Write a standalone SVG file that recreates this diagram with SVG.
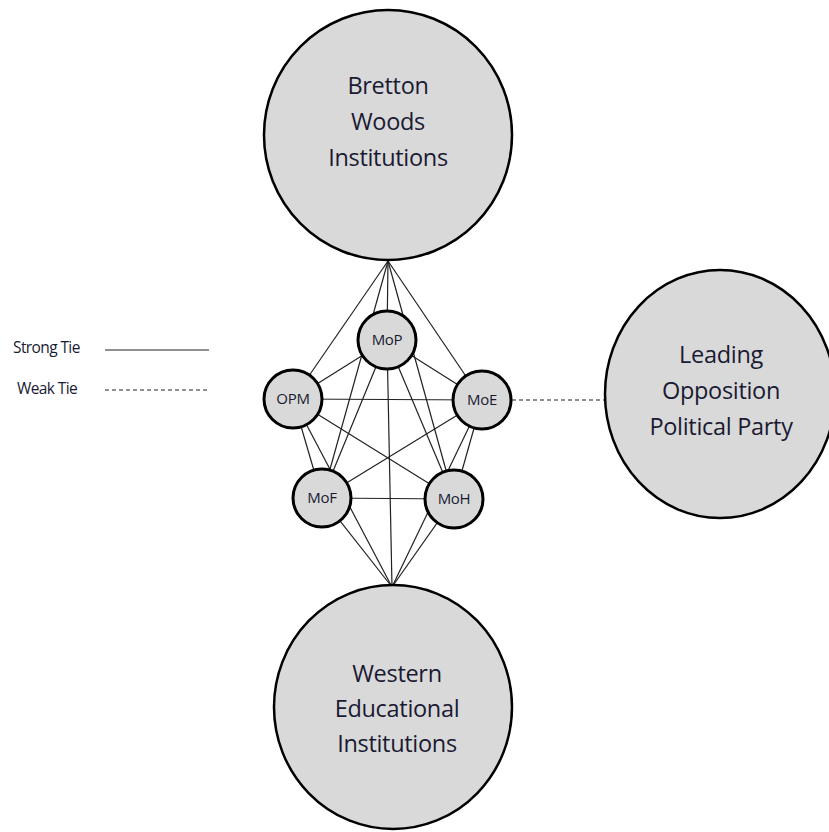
<svg xmlns="http://www.w3.org/2000/svg" width="829" height="832" viewBox="0 0 829 832">
<defs>
<style>
.big{fill:#d9d9d9;stroke:#000;stroke-width:2.5}
.small{fill:#d9d9d9;stroke:#000;stroke-width:3}
.lbl{font-family:"Open Sans","Liberation Sans",sans-serif;fill:#1a1a33;text-anchor:middle}
.bt{font-size:23.5px;letter-spacing:-0.3px}
.st{font-size:15px;letter-spacing:-0.3px}
.leg{font-family:"Open Sans","Liberation Sans",sans-serif;font-size:15.5px;fill:#1a1a33;letter-spacing:-0.6px}
.strong{stroke:#222;stroke-width:1.2;fill:none}
.weak{stroke:#222;stroke-width:1.2;fill:none;stroke-dasharray:4,3}
</style>
</defs>
<rect width="829" height="832" fill="#fff"/>
<g id="connectors">
<line class="strong" x1="388" y1="261" x2="293" y2="399"/>
<line class="strong" x1="388" y1="261" x2="387" y2="340"/>
<line class="strong" x1="388" y1="261" x2="482" y2="400"/>
<line class="strong" x1="388" y1="261" x2="322" y2="498"/>
<line class="strong" x1="388" y1="261" x2="454" y2="499"/>
<line class="strong" x1="392" y1="587" x2="293" y2="399"/>
<line class="strong" x1="392" y1="587" x2="387" y2="340"/>
<line class="strong" x1="392" y1="587" x2="482" y2="400"/>
<line class="strong" x1="392" y1="587" x2="322" y2="498"/>
<line class="strong" x1="392" y1="587" x2="454" y2="499"/>
<line class="strong" x1="293" y1="399" x2="482" y2="400"/>
<line class="strong" x1="322" y1="498" x2="454" y2="499"/>
<line class="strong" x1="293" y1="399" x2="387" y2="340"/>
<line class="strong" x1="387" y1="340" x2="482" y2="400"/>
<line class="strong" x1="293" y1="399" x2="322" y2="498"/>
<line class="strong" x1="482" y1="400" x2="454" y2="499"/>
<line class="strong" x1="293" y1="399" x2="454" y2="499"/>
<line class="strong" x1="482" y1="400" x2="322" y2="498"/>
<line class="strong" x1="387" y1="340" x2="322" y2="498"/>
<line class="strong" x1="387" y1="340" x2="454" y2="499"/>
<line class="weak" x1="512" y1="400" x2="605" y2="400"/>
</g>
<g id="bretton-woods">
<ellipse class="big" cx="388" cy="135" rx="124" ry="125"/>
<text class="lbl bt" x="388" y="94">Bretton</text>
<text class="lbl bt" x="388" y="130">Woods</text>
<text class="lbl bt" x="388" y="166">Institutions</text>
</g>
<g id="western-educational">
<ellipse class="big" cx="393" cy="707" rx="119" ry="122"/>
<text class="lbl bt" x="397" y="682">Western</text>
<text class="lbl bt" x="397" y="717">Educational</text>
<text class="lbl bt" x="397" y="752">Institutions</text>
</g>
<g id="leading-opposition">
<ellipse class="big" cx="720" cy="394" rx="115" ry="124"/>
<text class="lbl bt" x="721" y="363">Leading</text>
<text class="lbl bt" x="721" y="399">Opposition</text>
<text class="lbl bt" x="721" y="435">Political Party</text>
</g>
<g id="mop">
<circle class="small" cx="387" cy="340" r="29"/>
<text class="lbl st" x="387" y="345">MoP</text>
</g>
<g id="opm">
<circle class="small" cx="293" cy="399" r="29"/>
<text class="lbl st" x="293" y="404">OPM</text>
</g>
<g id="moe">
<circle class="small" cx="482" cy="400" r="29"/>
<text class="lbl st" x="482" y="405">MoE</text>
</g>
<g id="mof">
<circle class="small" cx="322" cy="498" r="29"/>
<text class="lbl st" x="322" y="503">MoF</text>
</g>
<g id="moh">
<circle class="small" cx="454" cy="499" r="29"/>
<text class="lbl st" x="454" y="504">MoH</text>
</g>
<g id="legend">
<text class="leg" x="13" y="353">Strong Tie</text>
<line class="strong" x1="105" y1="350" x2="209" y2="350"/>
<text class="leg" x="17" y="394">Weak Tie</text>
<line class="weak" x1="105" y1="390" x2="209" y2="390"/>
</g>
</svg>
